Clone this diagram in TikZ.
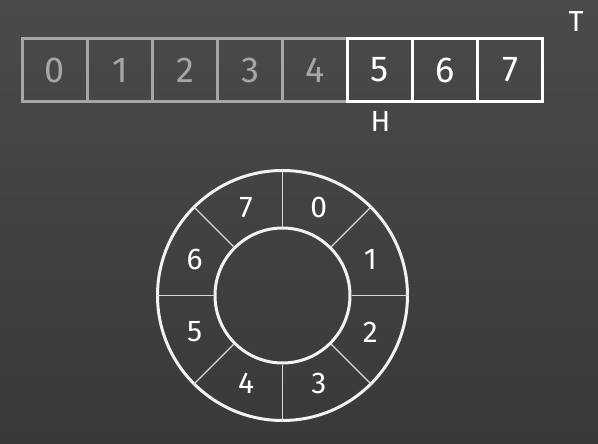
\documentclass[tikz,border=0pt]{standalone}
\usepackage{fontspec}
\setmainfont{Fira Sans}
\definecolor{bgtop}{HTML}{4B4A4A}
\definecolor{bgbot}{HTML}{393939}
\definecolor{faded}{HTML}{A6A6A6}
\tikzset{
  cell/.style={draw, line width=3pt, minimum width=65pt, minimum height=63pt,
    inner sep=0pt, font=\fontsize{36}{36}\selectfont},
  old/.style={draw=faded, text=faded},
  live/.style={draw=white, text=white},
  ptr/.style={text=white, inner sep=0pt, font=\fontsize{29}{29}\selectfont},
  ring/.style={draw=white!95!black, circle, line width=3pt, inner sep=0pt},
  spoke/.style={draw=white!85!black, line width=1.4pt},
  slot/.style={text=white, inner sep=0pt, font=\fontsize{30}{30}\selectfont}
}
\begin{document}
\begin{tikzpicture}[x=1pt,y=-1pt]
  \fill[top color=bgtop, bottom color=bgbot] (0,0) rectangle (598,444);
  \useasboundingbox (0,0) rectangle (598,444);
  % array
  \foreach \i in {0,...,4}
    \node[cell,old] (c\i) at ({55+65*\i},70) {\i};
  \foreach \i in {5,6,7}
    \node[cell,live] (c\i) at ({55+65*\i},70) {\i};
  \node[ptr] (H) at (380.5,122) {H};
  \node[ptr] (T) at (576,22) {T};
  % ring
  \node[ring, minimum size=250pt] (outer) at (282.5,295.5) {};
  \node[ring, minimum size=135pt] (inner) at (282.5,295.5) {};
  \foreach \a in {0,45,...,315}
    \draw[spoke] (inner.\a) -- (outer.\a);
  \foreach \k in {0,...,7}
    \path (outer.center) ++({-67.5+45*\k}:95) node[slot] (s\k) {\k};
\end{tikzpicture}
\end{document}
